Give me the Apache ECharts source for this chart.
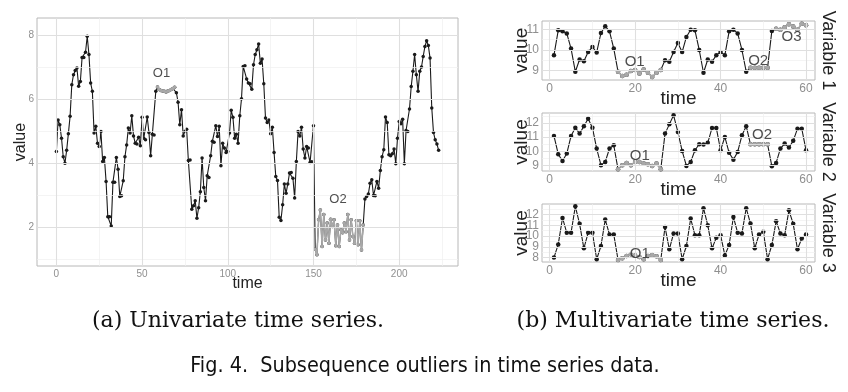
<!DOCTYPE html>
<html>
<head>
<meta charset="utf-8">
<script src="https://cdn.jsdelivr.net/npm/echarts@6/dist/echarts.min.js"></script>
<style>
html, body { margin: 0; padding: 0; background: #fff; }
#chart { width: 848px; height: 392px; }
</style>
</head>
<body>
<div id="chart"></div>
<script>
// univariate series, time 0..223
var uniValues = [
  4.36, 5.35, 5.2, 4.78, 4.2, 4.0, 4.4, 4.92, 5.46, 6.45,
  6.76, 6.89, 6.97, 6.4, 6.55, 7.3, 7.3, 7.46, 7.96, 7.39,
  6.5, 6.24, 4.94, 5.15, 4.62, 4.52, 4.99, 4.05, 4.18, 3.43,
  2.33, 2.33, 2.04, 3.4, 3.4, 4.18, 3.81, 2.96, 2.98, 3.45,
  4.2, 4.57, 5.1, 4.94, 5.48, 4.85, 4.62, 4.6, 4.81, 4.54,
  5.43, 4.78, 4.73, 5.44, 4.96, 4.23, 4.9, 4.88, 6.24, 6.38,
  6.3, 6.27, 6.25, 6.24, 6.22, 6.25, 6.27, 6.3, 6.33, 6.37,
  6.2, 5.9, 5.2, 5.67, 4.85, 4.99, 5.06, 4.08, 4.1, 2.56,
  2.67, 2.83, 2.28, 2.61, 3.11, 4.16, 3.24, 2.83, 3.61, 3.55,
  4.23, 4.68, 4.65, 5.17, 4.83, 5.15, 3.92, 4.62, 4.47, 4.33,
  4.36, 4.94, 5.65, 5.43, 4.78, 4.9, 4.62, 5.48, 6.01, 7.02,
  7.04, 6.63, 6.5, 6.48, 6.31, 7.07, 7.39, 7.54, 7.72, 7.12,
  7.25, 6.48, 5.41, 5.27, 5.35, 4.92, 5.12, 4.33, 3.58, 3.46,
  2.31, 2.21, 2.7, 3.35, 3.06, 3.35, 3.69, 3.71, 3.53, 2.91,
  4.05, 4.99, 4.85, 5.12, 4.44, 4.16, 4.52, 4.47, 4.02, 4.04,
  5.17,
  1.31, 1.14, 2.23, 2.54, 1.4, 2.4, 1.6, 2.13, 1.5, 2.25,
  2.02, 2.23, 1.42, 2.07, 1.4, 1.92, 1.83, 2.13, 1.86, 2.4,
  1.6, 2.23, 1.71, 1.5, 2.2, 1.45, 2.2, 1.29, 2.07,
  2.88, 2.96, 3.04, 3.37, 3.48, 2.99, 2.98, 3.43, 3.22, 3.77,
  4.2, 4.42, 5.44, 5.27, 4.26, 4.23, 4.29, 4.44, 3.98, 4.78,
  5.3, 5.23, 5.37, 3.98, 5.02, 4.99, 5.69, 6.39, 6.87, 7.39,
  6.76, 6.24, 6.87, 7.0, 7.33, 7.64, 7.82, 7.67, 7.28, 5.72,
  4.96, 4.73, 4.6, 4.4
];
var uniOutliers = [[59, 69], [151, 179]];          // index ranges drawn grey
var uniLabels = [[61.3, 6.81, 'O1'], [164.3, 2.88, 'O2']];
var uniXTicks = [0, 50, 100, 150, 200];
var uniXMinor = [25, 75, 125, 175, 225];
var uniYTicks = [2, 4, 6, 8];
var uniYMinor = [1, 3, 5, 7];

// multivariate, time 1..60
var var1 = [
  9.75, 10.95, 10.9, 10.8, 10.07, 8.95, 9.54, 9.46, 9.9, 10.15,
  9.88, 10.82, 11.15, 10.9, 10.07, 8.95, 8.74, 8.8, 8.98, 9.03,
  8.87, 9.06, 8.9, 8.7, 8.9, 9.03, 9.51, 9.43, 9.9, 10.34,
  9.9, 10.63, 10.98, 10.95, 10.0, 8.9, 9.54, 9.43, 9.75, 9.9,
  9.75, 10.9, 10.98, 10.8, 10.0, 8.95, 9.14, 9.14, 9.14, 9.14,
  9.14, 10.92, 11.03, 10.98, 11.1, 11.24, 11.14, 10.98, 11.27, 11.19
];
var var2 = [
  11.09, 9.8, 9.33, 9.85, 11.09, 11.67, 11.25, 11.77, 12.3, 11.67,
  10.2, 9.03, 9.26, 10.2, 10.43, 8.74, 9.03, 9.19, 9.03, 9.26,
  9.26, 9.14, 9.1, 8.98, 9.14, 8.74, 11.25, 11.9, 12.54, 11.37,
  10.03, 8.98, 9.26, 10.08, 10.5, 10.48, 10.6, 11.65, 11.65, 10.08,
  11.02, 9.9, 9.42, 9.96, 11.13, 11.77, 10.5, 10.5, 10.5, 10.5,
  10.5, 8.96, 9.19, 10.2, 10.55, 10.27, 10.74, 11.6, 11.6, 10.08
];
var var3 = [
  8.0, 9.23, 11.69, 10.31, 10.31, 12.77, 11.14, 8.86, 10.31, 10.31,
  7.85, 9.08, 11.54, 10.15, 10.15, 7.78, 7.94, 8.15, 8.3, 8.2,
  8.06, 7.85, 8.15, 8.25, 8.12, 7.78, 10.86, 8.77, 10.25, 10.25,
  7.85, 9.08, 11.63, 10.09, 10.09, 12.6, 11.02, 8.86, 9.85, 10.09,
  8.2, 9.17, 11.78, 10.31, 10.25, 12.6, 11.17, 8.86, 10.15, 10.4,
  7.85, 9.17, 11.38, 10.25, 10.09, 12.4, 11.14, 8.77, 9.78, 10.15
];
var varOutliers = [
  [[16, 26], [47, 51], [53, 60]],
  [[16, 26], [47, 51]],
  [[16, 26]]
];
var varLabels = [
  [[19.9, 9.43, 'O1'], [48.8, 9.48, 'O2'], [56.6, 10.63, 'O3']],
  [[21.1, 9.65, 'O1'], [49.7, 11.13, 'O2']],
  [[21.1, 8.36, 'O1']]
];
var varNames = ['Variable 1', 'Variable 2', 'Variable 3'];
var varXTicks = [0, 20, 40, 60];
var varXMinor = [10, 30, 50];
var varYTicks = [[9, 10, 11], [9, 10, 11, 12], [8, 9, 10, 11, 12]];
var varYMinor = [[9.5, 10.5], [9.5, 10.5, 11.5, 12.5], [8.5, 9.5, 10.5, 11.5, 12.5]];
var varYRange = [[8.55, 11.4], [8.62, 12.7], [7.59, 12.99]];

var FONT = '"Liberation Sans", Arial, sans-serif';
var BLACK = '#1a1a1a';
var GREY = '#a8a8a8';

var panels = [
  {left: 37, top: 18, width: 421, height: 248},
  {left: 542, top: 21, width: 273, height: 59},
  {left: 542, top: 113, width: 273, height: 58},
  {left: 542, top: 204, width: 273, height: 58}
];

function gridLines(xMaj, xMin, yMaj, yMin) {
  var d = [];
  xMin.forEach(function (v) { d.push({xAxis: v, lineStyle: {color: '#efefef', width: 0.7, type: 'solid'}}); });
  yMin.forEach(function (v) { d.push({yAxis: v, lineStyle: {color: '#efefef', width: 0.7, type: 'solid'}}); });
  xMaj.forEach(function (v) { d.push({xAxis: v, lineStyle: {color: '#dfdfdf', width: 1.1, type: 'solid'}}); });
  yMaj.forEach(function (v) { d.push({yAxis: v, lineStyle: {color: '#dfdfdf', width: 1.1, type: 'solid'}}); });
  return d;
}

function toPairs(vals, t0) {
  return vals.map(function (v, i) { return [i + t0, v]; });
}

var grid = [], xAxis = [], yAxis = [], series = [];

var big = {tick: 10, name: 16, sym: 3.5, lab: 13, gapX: 10, gapY: 8};
var small = {tick: 12, name: 19, sym: 4.5, lab: 15, gapX: 9, gapY: 11};

function tickLabel(vals, sz) {
  return {customValues: vals, interval: 0, hideOverlap: false, color: '#8f8f8f',
    fontSize: sz.tick, fontFamily: FONT, margin: 3};
}

function addPanel(gi, pairs, outl, labels, xr, yr, xMaj, xMin, yMaj, yMin, sz) {
  var p = panels[gi];
  grid.push({left: p.left, top: p.top, width: p.width, height: p.height,
    show: true, borderColor: '#b8b8b8', borderWidth: 1, backgroundColor: '#fff'});
  xAxis.push({
    gridIndex: gi, type: 'value', min: xr[0], max: xr[1],
    axisLine: {show: false}, axisTick: {show: false}, splitLine: {show: false},
    axisLabel: tickLabel(xMaj, sz),
    name: 'time', nameLocation: 'middle', nameGap: sz.gapX, nameMoveOverlap: false,
    nameTextStyle: {fontSize: sz.name, fontFamily: FONT, color: '#222', lineHeight: sz.name, verticalAlign: 'top'}
  });
  var yi = yAxis.length;
  // two axes on the same scale: every other tick label each, so close labels are all kept
  yAxis.push({
    gridIndex: gi, type: 'value', min: yr[0], max: yr[1],
    axisLine: {show: false}, axisTick: {show: false}, splitLine: {show: false},
    axisLabel: tickLabel(yMaj.filter(function (v, i) { return i % 2 === 0; }), sz),
    name: 'value', nameLocation: 'middle', nameGap: sz.gapY, nameRotate: 90, nameMoveOverlap: false,
    nameTextStyle: {fontSize: sz.name, fontFamily: FONT, color: '#222', lineHeight: sz.name}
  });
  yAxis.push({
    gridIndex: gi, type: 'value', min: yr[0], max: yr[1], position: 'left',
    axisLine: {show: false}, axisTick: {show: false}, splitLine: {show: false},
    axisLabel: tickLabel(yMaj.filter(function (v, i) { return i % 2 === 1; }), sz)
  });
  series.push({
    type: 'line', xAxisIndex: gi, yAxisIndex: yi, data: [], z: 1, silent: true,
    markLine: {silent: true, symbol: 'none', label: {show: false}, animation: false,
      data: gridLines(xMaj, xMin, yMaj, yMin)}
  });
  series.push({
    type: 'line', xAxisIndex: gi, yAxisIndex: yi, data: pairs, z: 3,
    symbol: 'circle', symbolSize: sz.sym, showSymbol: true,
    itemStyle: {color: BLACK, borderWidth: 0}, lineStyle: {color: BLACK, width: 1.1}, animation: false
  });
  var t0 = pairs[0][0];
  outl.forEach(function (r) {
    series.push({
      type: 'line', xAxisIndex: gi, yAxisIndex: yi, z: 4,
      data: pairs.slice(r[0] - t0, r[1] - t0 + 1),
      symbol: 'circle', symbolSize: sz.sym, showSymbol: true,
      itemStyle: {color: GREY, borderWidth: 0}, lineStyle: {color: GREY, width: 1.5}, animation: false
    });
  });
  series.push({
    type: 'scatter', xAxisIndex: gi, yAxisIndex: yi, z: 5, data: labels,
    symbolSize: 0, animation: false, silent: true,
    label: {show: true, position: 'inside', formatter: function (q) { return q.data[2]; },
      color: '#222', fontSize: sz.lab, fontFamily: FONT}
  });
}

addPanel(0, toPairs(uniValues, 0), uniOutliers, uniLabels, [-11.3, 234.3], [0.79, 8.53],
  uniXTicks, uniXMinor, uniYTicks, uniYMinor, big);
[var1, var2, var3].forEach(function (vals, k) {
  addPanel(k + 1, toPairs(vals, 1), varOutliers[k], varLabels[k], [-1.8, 62.1], varYRange[k],
    varXTicks, varXMinor, varYTicks[k], varYMinor[k], small);
});

var graphic = [];
varNames.forEach(function (n, k) {
  var p = panels[k + 1];
  graphic.push({type: 'text', x: 828, y: p.top + p.height / 2, rotation: -Math.PI / 2,
    style: {text: n, font: '18px ' + FONT, fill: '#222', align: 'center', verticalAlign: 'middle',
      textAlign: 'center', textVerticalAlign: 'middle'}});
});
graphic.push({type: 'text', x: 238, y: 321,
  style: {text: '(a) Univariate time series.', font: '22px "DejaVu Serif", serif', fill: '#111',
    align: 'center', verticalAlign: 'middle', textAlign: 'center', textVerticalAlign: 'middle'}});
graphic.push({type: 'text', x: 673, y: 321,
  style: {text: '(b) Multivariate time series.', font: '22px "DejaVu Serif", serif', fill: '#111',
    align: 'center', verticalAlign: 'middle', textAlign: 'center', textVerticalAlign: 'middle'}});
graphic.push({type: 'text', x: 425, y: 366,
  style: {text: 'Fig. 4.  Subsequence outliers in time series data.', font: '21.4px "DejaVu Sans Condensed", sans-serif', fill: '#111',
    align: 'center', verticalAlign: 'middle', textAlign: 'center', textVerticalAlign: 'middle'}});

var myChart = echarts.init(document.getElementById('chart'), null, {renderer: 'canvas'});
myChart.setOption({
  animation: false,
  grid: grid,
  xAxis: xAxis,
  yAxis: yAxis,
  series: series,
  graphic: graphic
});
</script>
</body>
</html>
